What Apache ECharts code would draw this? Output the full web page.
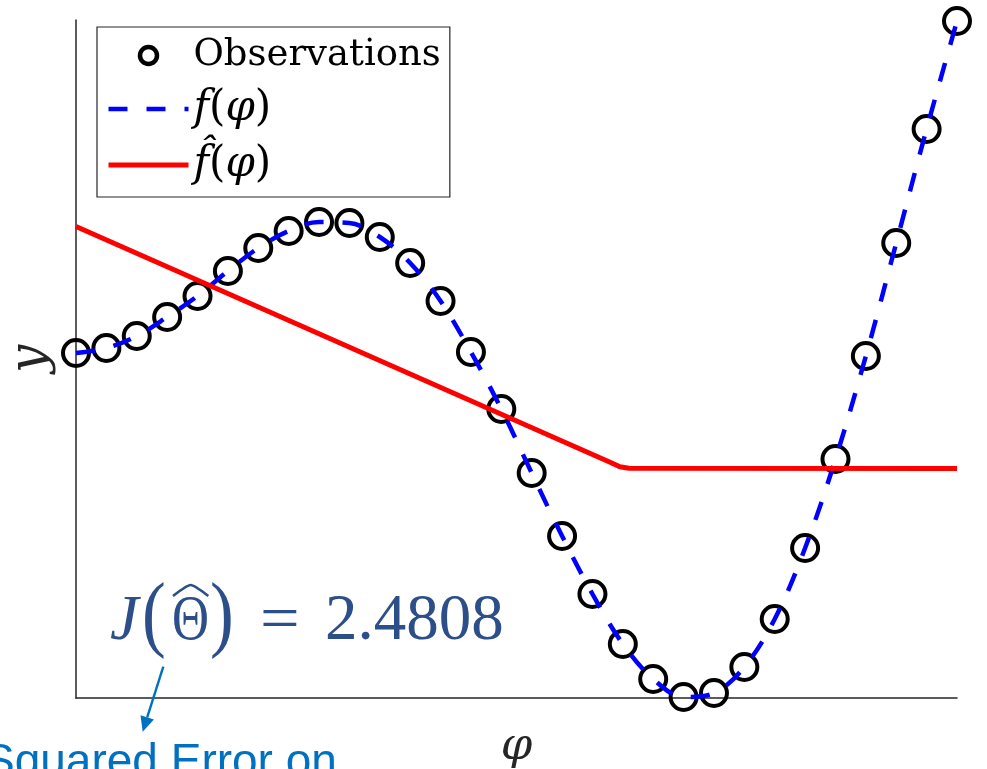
<!DOCTYPE html>
<html>
<head>
<meta charset="utf-8">
<title>Model fit</title>
<script src="https://cdn.jsdelivr.net/npm/echarts@6/dist/echarts.min.js"></script>
<style>
  html, body { margin: 0; padding: 0; background: #ffffff; }
  #chart { width: 987px; height: 769px; }
</style>
</head>
<body>
<div id="chart"></div>
<script>
// Sample positions (phi) and observed responses
const phiObs = [0, 1, 2, 3, 4, 5, 6, 7, 8, 9, 10, 11, 12, 13, 14, 15, 16, 17, 18, 19, 20, 21, 22, 23, 24, 25, 26, 27, 28, 29];
const yObs = [3.45, 3.50, 3.62, 3.81, 4.02, 4.27, 4.50, 4.67, 4.76, 4.75, 4.61, 4.35, 3.97, 3.46, 2.89,
              2.25, 1.62, 1.04, 0.54, 0.19, 0.01, 0.05, 0.31, 0.79, 1.50, 2.39, 3.42, 4.55, 5.69, 6.77];

// True function f(phi) at the same positions
const yTrue = [3.45, 3.50, 3.62, 3.81, 4.02, 4.27, 4.50, 4.67, 4.76, 4.75, 4.61, 4.35, 3.97, 3.46, 2.89,
               2.25, 1.62, 1.04, 0.54, 0.19, 0.01, 0.05, 0.31, 0.79, 1.50, 2.39, 3.42, 4.55, 5.69, 6.77];

// Fitted model f-hat(phi): linear decline then flat
const phiFit = [0, 17.6, 17.9, 18.2, 29];
const yFit = [4.715, 2.355, 2.312, 2.297, 2.295];

// Axis extent
const phiRange = [0, 29];
const yRange = [0, 6.78];

const costText = '2.4808';

const pair = (xs, ys) => xs.map((x, i) => [x, ys[i]]);

const mathFont = 'DejaVu Serif';
const annColor = '#2C4F8A';
const noteColor = '#0070C0';
const trueStyle = { color: '#0000FF', width: 4.5, type: [19, 19] };
const fitStyle = { color: '#FF0000', width: 5 };

const chart = echarts.init(document.getElementById('chart'), null, { renderer: 'canvas' });

const legendRich = {
  r: { fontFamily: mathFont, fontSize: 37, color: '#000' },
  p: { fontFamily: mathFont, fontSize: 42, color: '#000' },
  i: { fontFamily: mathFont, fontStyle: 'italic', fontSize: 42, color: '#000' }
};

const option = {
  backgroundColor: '#ffffff',
  animation: false,
  grid: { left: 76, right: 30, top: 20, bottom: 71, containLabel: false, outerBoundsMode: 'none' },
  xAxis: {
    type: 'value',
    min: phiRange[0], max: phiRange[1],
    name: '\u03C6',
    nameLocation: 'middle',
    nameGap: 27,
    nameTextStyle: { fontFamily: mathFont, fontStyle: 'italic', fontSize: 45, color: '#262626' },
    axisLine: { show: true, onZero: false, lineStyle: { color: '#262626', width: 1.5 } },
    axisTick: { show: false },
    axisLabel: { show: false },
    splitLine: { show: false }
  },
  yAxis: {
    type: 'value',
    min: yRange[0], max: yRange[1],
    name: 'y',
    nameLocation: 'middle',
    nameRotate: 90,
    nameGap: 20,
    nameTextStyle: { fontFamily: mathFont, fontStyle: 'italic', fontSize: 50, color: '#262626' },
    axisLine: { show: true, onZero: false, lineStyle: { color: '#262626', width: 1.5 } },
    axisTick: { show: false },
    axisLabel: { show: false },
    splitLine: { show: false }
  },
  legend: {
    orient: 'vertical',
    left: 97,
    top: 27,
    selectedMode: false,
    itemWidth: 80,
    itemHeight: 17,
    itemGap: 14,
    padding: [10, 9, 11, 9],
    borderColor: '#262626',
    borderWidth: 1.2,
    backgroundColor: '#ffffff',
    data: [
      { name: 'Observations',
        itemStyle: { color: 'rgba(255,255,255,0)', borderColor: '#000000', borderWidth: 4.5, opacity: 1 } },
      { name: 'f(\u03C6)', itemStyle: { opacity: 0 }, lineStyle: trueStyle },
      { name: 'fhat(\u03C6)', itemStyle: { opacity: 0 }, lineStyle: fitStyle }
    ],
    formatter: function (name) {
      if (name === 'Observations') return '{r|Observations}';
      if (name === 'f(\u03C6)') return '{i|f}{p|(}{i|\u03C6}{p|)}';
      return '{i|f\u0302}{p|(}{i|\u03C6}{p|)}';
    },
    textStyle: { rich: legendRich, fontFamily: mathFont, fontSize: 37 }
  },
  series: [
    {
      name: 'Observations',
      type: 'scatter',
      data: pair(phiObs, yObs),
      symbol: 'circle',
      symbolSize: 26,
      itemStyle: { color: 'rgba(255,255,255,0)', borderColor: '#000000', borderWidth: 4, opacity: 1 },
      emphasis: { disabled: true },
      z: 2
    },
    {
      name: 'f(\u03C6)',
      type: 'line',
      data: pair(phiObs, yTrue),
      smooth: 0.35,
      symbol: 'none',
      lineStyle: trueStyle,
      itemStyle: { color: '#0000FF' },
      emphasis: { disabled: true },
      z: 3
    },
    {
      name: 'fhat(\u03C6)',
      type: 'line',
      data: pair(phiFit, yFit),
      smooth: false,
      symbol: 'none',
      lineStyle: fitStyle,
      itemStyle: { color: '#FF0000' },
      emphasis: { disabled: true },
      z: 4
    }
  ],
  graphic: [
    // Cost annotation: J( Theta-hat ) = value
    { type: 'text', x: 110, y: 622, z: 10,
      style: { text: 'J', fontFamily: 'Liberation Serif', fontStyle: 'italic', fontSize: 64, fill: annColor, align: 'left', verticalAlign: 'middle' } },
    { type: 'text', x: 142, y: 619, scaleX: 0.85, z: 10,
      style: { text: '(', fontFamily: 'Liberation Serif', fontSize: 84, fill: annColor, align: 'left', verticalAlign: 'middle' } },
    { type: 'text', x: 190.5, y: 622, scaleX: 0.8, z: 10,
      style: { text: '\u0398', fontFamily: 'Liberation Serif', fontSize: 64, fill: annColor, align: 'center', verticalAlign: 'middle' } },
    { type: 'polyline', z: 10,
      shape: { points: [[173, 596], [190.7, 585], [208.3, 596]], smooth: 0.2 },
      style: { stroke: annColor, lineWidth: 2.6, fill: null, lineJoin: 'round' } },
    { type: 'text', x: 210, y: 619, scaleX: 0.85, z: 10,
      style: { text: ')', fontFamily: 'Liberation Serif', fontSize: 84, fill: annColor, align: 'left', verticalAlign: 'middle' } },
    { type: 'text', x: 260, y: 622, scaleX: 1.1, z: 10,
      style: { text: '=', fontFamily: 'Liberation Serif', fontSize: 64, fill: annColor, align: 'left', verticalAlign: 'middle' } },
    { type: 'text', x: 325, y: 622, z: 10,
      style: { text: costText, fontFamily: 'Liberation Serif', fontSize: 65, fill: annColor, align: 'left', verticalAlign: 'middle' } },
    // Pointer to the note below
    { type: 'line', z: 10,
      shape: { x1: 163.3, y1: 666.7, x2: 147.2, y2: 717.4 },
      style: { stroke: noteColor, lineWidth: 2.4 } },
    { type: 'polygon', z: 10,
      shape: { points: [[142.7, 731.7], [153.9, 719.5], [140.5, 715.3]] },
      style: { fill: noteColor } },
    { type: 'text', x: -16, y: 763, z: 10,
      style: { text: 'Squared Error on', fontFamily: 'Liberation Sans', fontSize: 46, fill: noteColor, align: 'left', verticalAlign: 'middle' } }
  ]
};

chart.setOption(option);
</script>
</body>
</html>
